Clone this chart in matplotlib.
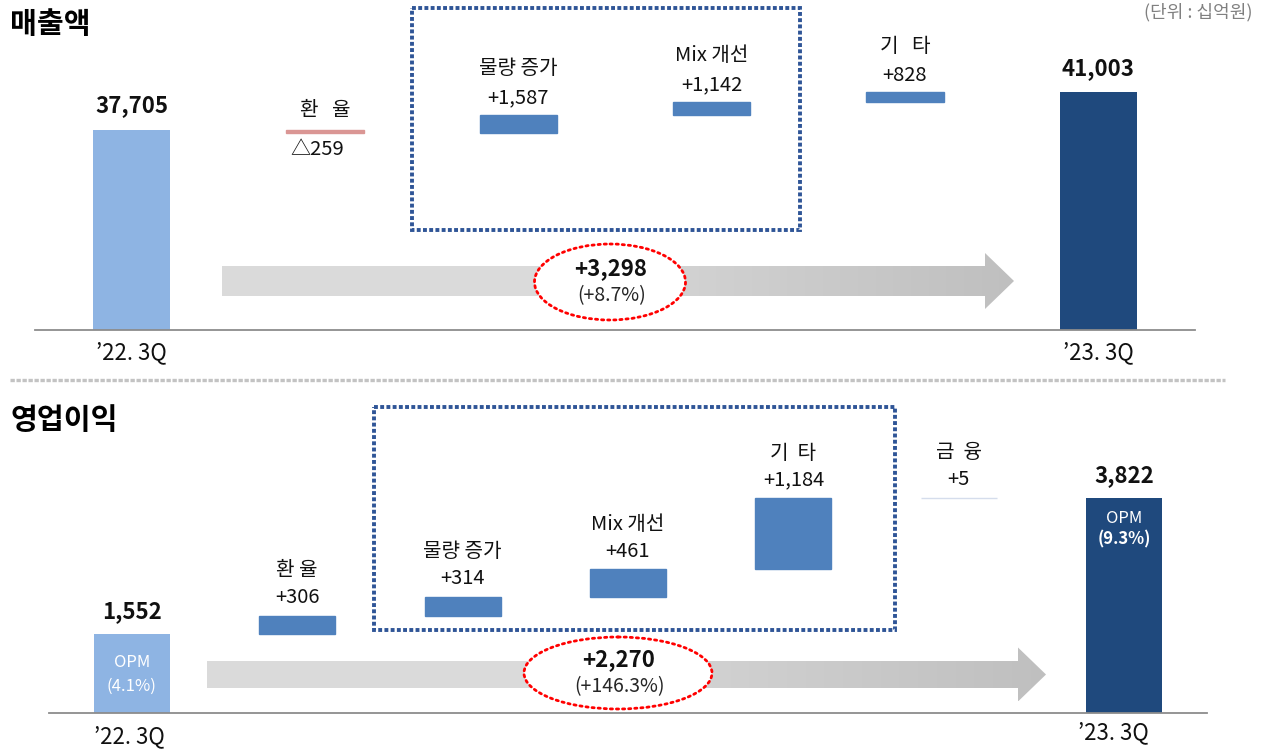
import numpy as np
import matplotlib
matplotlib.use("Agg")
import matplotlib.pyplot as plt
from matplotlib.patches import Polygon, Ellipse, Rectangle

plt.rcParams['font.family'] = ['Noto Sans CJK KR', 'DejaVu Sans']

# 매출액 (십억원)
rev_start = 37705
rev_end = 41003
rev_names = ['환   율', '물량 증가', 'Mix 개선', '기   타']
rev_steps = [-259, 1587, 1142, 828]
rev_step_txt = ['△259', '+1,587', '+1,142', '+828']

# 영업이익 (십억원)
op_start = 1552
op_end = 3822
op_names = ['환 율', '물량 증가', 'Mix 개선', '기  타', '금  융']
op_steps = [306, 314, 461, 1184, 5]
op_step_txt = ['+306', '+314', '+461', '+1,184', '+5']
opm = ['4.1%', '9.3%']

periods = ['’22. 3Q', '’23. 3Q']

W, H = 1266, 749
fig = plt.figure(figsize=(W / 100, H / 100), dpi=100)

# full-figure layer in pixel units for frames, arrows and titles
bg = fig.add_axes([0, 0, 1, 1])
bg.axis('off')


def px_axes(left, top, right, bottom):
    ax = fig.add_axes([left / W, 1 - bottom / H, (right - left) / W, (bottom - top) / H])
    ax.patch.set_alpha(0)
    ax.axis('off')
    return ax


def grad_arrow(x0, xh, x1, yc, body, head):
    pts = [(x0, yc - body / 2), (xh, yc - body / 2), (xh, yc - head / 2), (x1, yc),
           (xh, yc + head / 2), (xh, yc + body / 2), (x0, yc + body / 2)]
    poly = Polygon(pts, closed=True, facecolor='none', edgecolor='none')
    bg.add_patch(poly)
    t = np.linspace(0, 1, 300)
    ramp = np.clip((t - 0.4) / 0.6, 0, 1)
    c0, c1 = np.array([0.855] * 3), np.array([0.75] * 3)
    img = (c0 + ramp[:, None] * (c1 - c0))[None, :, :]
    im = bg.imshow(img, extent=(x0, x1, yc + head / 2, yc - head / 2),
                   aspect='auto', interpolation='bilinear', zorder=1)
    im.set_clip_path(poly)


def total_badge(cx, cy, w, h, start, end):
    bg.add_patch(Ellipse((cx, cy), w, h, facecolor='white', edgecolor='#FF0000',
                         lw=2.0, linestyle=(0, (0.8, 1.4)), capstyle='round', zorder=3))
    diff = end - start
    bg.text(cx + 1, cy - 13, f'+{diff:,}', ha='center', va='center',
            fontsize=16, fontweight='bold', color='#111111', zorder=4)
    bg.text(cx + 2, cy + 14, f'(+{diff / start * 100:.1f}%)', ha='center', va='center',
            fontsize=14, color='#262626', zorder=4)


def waterfall(ax, start, end, names, steps, step_txt, colors, bar_w,
              name_off, val_off, label_off):
    y0 = ax.get_ylim()[0]
    n = len(steps)
    ax.axhline(y0, color='#8C8C8C', lw=1.3, clip_on=False)
    ax.bar(0, start - y0, bottom=y0, width=bar_w, color='#8EB4E3')
    ax.bar(n + 1, end - y0, bottom=y0, width=bar_w, color='#1F497D')
    for x, v in [(0, start), (n + 1, end)]:
        ax.annotate(f'{v:,}', (x, v), xytext=(0, label_off), textcoords='offset pixels',
                    ha='center', va='center', fontsize=16, fontweight='bold', color='#111111')
    level = start
    for i, d in enumerate(steps):
        lo, hi = min(level, level + d), max(level, level + d)
        ax.bar(i + 1, hi - lo, bottom=lo, width=bar_w, color=colors[i],
               edgecolor=colors[i], lw=1.0)
        if d < 0:
            ax.annotate(names[i], (i + 1, hi), xytext=(0, 20), textcoords='offset pixels',
                        ha='center', va='center', fontsize=14.5, color='#111111')
            ax.annotate(step_txt[i], (i + 1, lo), xytext=(-8, -16), textcoords='offset pixels',
                        ha='center', va='center', fontsize=14.5, color='#111111')
        else:
            ax.annotate(names[i], (i + 1, hi), xytext=(0, name_off), textcoords='offset pixels',
                        ha='center', va='center', fontsize=14.5, color='#111111')
            ax.annotate(step_txt[i], (i + 1, hi), xytext=(0, val_off), textcoords='offset pixels',
                        ha='center', va='center', fontsize=14.5, color='#111111')
        level += d
    return y0


# titles, unit, separator
bg.text(10, 24, '매출액', ha='left', va='center', fontsize=21, fontweight='bold', color='black')
bg.text(10, 420, '영업이익', ha='left', va='center', fontsize=21, fontweight='bold', color='black')
bg.text(1253, 12, '(단위 : 십억원)', ha='right', va='center', fontsize=13, color='#808080')
bg.plot([10, 1225], [380, 380], color='#C3C3C3', lw=2.4, linestyle=(0, (1.3, 0.5)))

# dotted frames around the volume / mix items
bg.add_patch(Rectangle((412, 8), 388, 222, fill=False, edgecolor='#2F5597',
                       lw=2.8, linestyle=(0, (1.0, 0.6))))
bg.add_patch(Rectangle((374, 407), 521, 223, fill=False, edgecolor='#2F5597',
                       lw=2.8, linestyle=(0, (1.0, 0.6))))

# growth arrows with totals
grad_arrow(222, 985, 1014, 281, 30, 56)
grad_arrow(207, 1018, 1046, 674.5, 27, 54)
total_badge(610, 282, 151, 76, rev_start, rev_end)
total_badge(618, 673, 188, 72, op_start, op_end)

bg.set_xlim(0, W)
bg.set_ylim(H, 0)

# 매출액 waterfall
ax1 = px_axes(35, 60, 1195, 330)
ax1.set_xlim(-0.5, len(rev_steps) + 1.5)
ax1.set_ylim(20300, 43800)
b1 = waterfall(ax1, rev_start, rev_end, rev_names, rev_steps, rev_step_txt,
               ['#DA9694', '#4F81BD', '#4F81BD', '#4F81BD'], 0.40,
               name_off=46, val_off=17, label_off=24)
ax1.annotate(periods[0], (0, b1), xytext=(0, -23), textcoords='offset pixels',
             ha='center', va='center', fontsize=16, color='#111111')
ax1.annotate(periods[1], (len(rev_steps) + 1, b1), xytext=(0, -23), textcoords='offset pixels',
             ha='center', va='center', fontsize=16, color='#111111')

# 영업이익 waterfall
ax2 = px_axes(49, 400, 1207, 713)
ax2.set_xlim(-0.5, len(op_steps) + 1.5)
ax2.set_ylim(233, 5457)
b2 = waterfall(ax2, op_start, op_end, op_names, op_steps, op_step_txt,
               ['#4F81BD'] * 4 + ['#D5DDEC'], 0.46,
               name_off=45, val_off=18, label_off=22)
ax2.annotate(periods[0], (0, b2), xytext=(-2, -24), textcoords='offset pixels',
             ha='center', va='center', fontsize=16, color='#111111')
ax2.annotate(periods[1], (len(op_steps) + 1, b2), xytext=(-11, -20), textcoords='offset pixels',
             ha='center', va='center', fontsize=16, color='#111111')
ax2.annotate('OPM', (0, op_start), xytext=(0, -29), textcoords='offset pixels',
             ha='center', va='center', fontsize=12, color='white')
ax2.annotate(f'({opm[0]})', (0, op_start), xytext=(0, -52), textcoords='offset pixels',
             ha='center', va='center', fontsize=12, color='white')
ax2.annotate('OPM', (len(op_steps) + 1, op_end), xytext=(0, -21), textcoords='offset pixels',
             ha='center', va='center', fontsize=12, color='white')
ax2.annotate(f'({opm[1]})', (len(op_steps) + 1, op_end), xytext=(0, -42), textcoords='offset pixels',
             ha='center', va='center', fontsize=12, color='white', fontweight='bold')

fig.savefig('out.png', dpi=100)
